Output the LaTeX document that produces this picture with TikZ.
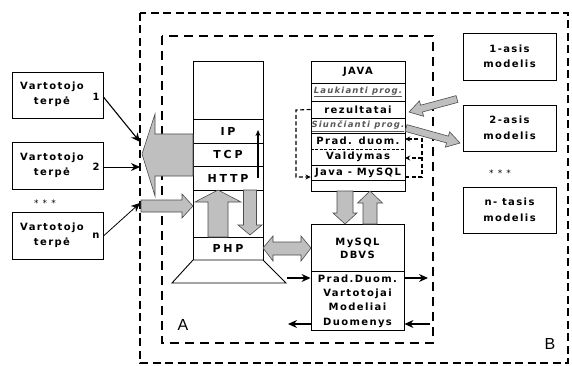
\documentclass[tikz,border=0pt]{standalone}
\usepackage{fontspec}
\setmainfont{DejaVu Sans}[LetterSpace=14]
\newfontfamily\protofont{DejaVu Sans}[LetterSpace=25]
\newfontfamily\bigfont{Liberation Sans}
\usetikzlibrary{calc,arrows.meta}
\newcommand\grayarrow[5]{% start, end, shaft half, head half, head length
  \path coordinate (ba-s) at (#1) coordinate (ba-e) at (#2);
  \path coordinate (ba-h) at ($(ba-e)!#5!(ba-s)$);
  \filldraw[garrow] ($(ba-s)!#3!90:(ba-e)$) -- ($(ba-h)!#3!-90:(ba-s)$) -- ($(ba-h)!#4!-90:(ba-s)$) -- (ba-e) -- ($(ba-h)!#4!90:(ba-s)$) -- ($(ba-h)!#3!90:(ba-s)$) -- ($(ba-s)!#3!-90:(ba-e)$) -- cycle;}
\begin{document}
\begin{tikzpicture}[x=1pt,y=-1pt,
  box/.style={draw,line width=0.9pt,fill=white,inner sep=0pt},
  txt/.style={font=\fontsize{10}{15.5}\selectfont\bfseries,align=center,inner sep=0pt},
  proto/.style={font=\protofont\fontsize{11}{13}\selectfont\bfseries,inner sep=0pt},
  garrow/.style={fill=black!25,draw=black!70,line width=0.6pt,line join=miter},
  blk/.style={-{Stealth[length=9pt,width=8pt]},line width=1.1pt},
  sblk/.style={-{Stealth[length=6pt,width=5pt]},line width=1.1pt},
  loop/.style={line width=1.1pt,dash pattern=on 4pt off 2.5pt},
  ltip/.style={-{Stealth[length=5pt,width=5pt]}},
  prog/.style={font=\fontsize{8.5}{10}\selectfont\itshape\bfseries,text=black!65,inner sep=0pt}
]
\useasboundingbox (0,0) rectangle (572,366);

% dashed frames
\draw[line width=2.2pt,dash pattern=on 8pt off 4.5pt] (140,13) rectangle (568,363);
\draw[line width=1.2pt,dash pattern=on 9pt off 6pt] (162,36) rectangle (433,343);
\node[font=\bigfont\fontsize{16}{18}\selectfont,inner sep=0pt] (labA) at (183,325) {A};
\node[font=\bigfont\fontsize{16}{18}\selectfont,inner sep=0pt] (labB) at (550,344) {B};

% user boxes
\node[box,minimum width=91,minimum height=46] (u1) at (57.5,95) {};
\node[box,minimum width=91,minimum height=47] (u2) at (57.5,165.5) {};
\node[box,minimum width=91,minimum height=47] (u3) at (57.5,235.5) {};
\node[txt] (u1t) at (52,94) {Vartotojo\\terpė};
\node[txt] (u2t) at (52,165) {Vartotojo\\terpė};
\node[txt] (u3t) at (52,235) {Vartotojo\\terpė};
\node[txt] (n1) at (96,97) {1};
\node[txt] (n2) at (96,167) {2};
\node[txt] (nn) at (96,236) {n};
\node[font=\fontsize{9}{10}\selectfont,inner sep=0pt] (dots1) at (45,203) {* * *};
\coordinate (c1) at (140,142);
\coordinate (c2) at (140,167);
\coordinate (c3) at (140,203);
\draw[blk] (u1.east |- n1) -- (c1);
\draw[blk,line width=0.9pt] (u2.east |- n2) -- (c2);
\draw[blk,line width=0.8pt] (u3.east |- nn) -- (c3);

% left stack
\node[box,minimum width=70,minimum height=58] (stop) at (228,90) {};
\node[box,minimum width=70,minimum height=24,proto] (ip) at (228,131) {IP};
\node[box,minimum width=70,minimum height=23,proto] (tcp) at (228,154.5) {TCP};
\node[box,minimum width=70,minimum height=24,proto] (http) at (228,178) {HTTP};
\node[box,minimum width=70,minimum height=47] (mid) at (228,213.5) {};
\node[box,minimum width=70,minimum height=23,proto] (php) at (228,248.5) {PHP};
\draw[box] (193,260) -- (263,260) -- (286,283) -- (172,283) -- cycle;
\coordinate (tcb) at (258,178);
\coordinate (tct) at (258,130);
\draw[sblk] (tcb) -- (tct);

% big gray arrow to users
\filldraw[garrow] (193,134) -- (155,134) -- (155,114) -- (142,154) -- (155,196) -- (155,176) -- (193,176) -- cycle;
% small gray arrow into stack
\grayarrow{141,206}{193,206}{6pt}{12pt}{11pt}
% up / down arrows inside stack
\grayarrow{218,237}{218,190}{10pt}{23pt}{12pt}
\grayarrow{250,190}{250,235}{6.5pt}{12pt}{10pt}

% JAVA stack
\node[box,minimum width=94,minimum height=22,txt] (jv) at (358,72) {JAVA};
\node[box,minimum width=94,minimum height=18] (lp) at (358,92) {};
\node[prog] (lpt) at (358,92) {\underline{Laukianti prog.}};
\node[box,minimum width=94,minimum height=17,txt] (rz) at (358,109.5) {rezultatai};
\node[box,minimum width=94,minimum height=15] (sp) at (358,125.5) {};
\node[prog] (spt) at (358,126) {\underline{Siunčianti prog.}};
\node[box,minimum width=94,minimum height=32] (pdvd) at (358,149) {};
\node[txt,minimum width=94,minimum height=16] (pd) at (358,141) {Prad. duom.};
\node[txt,minimum width=94,minimum height=16] (vd) at (358,157) {Valdymas};
\draw[line width=0.9pt,dash pattern=on 3pt off 1.5pt] (pdvd.west) -- (pdvd.east);
\node[box,minimum width=94,minimum height=15,txt] (jm) at (358,172.5) {Java - MySQL};
\node[box,minimum width=94,minimum height=11] (je) at (358,185.5) {};

% dashed loops
\coordinate (ll1) at (296,110);
\coordinate (ll2) at (296,177);
\draw[loop,ltip] (rz.west) -- (ll1) -- (ll2) -- (ll2 -| jm.west);
\coordinate (rl1) at (422,177);
\coordinate (rl2) at (422,139);
\coordinate (rl3) at (422,158);
\draw[loop,ltip] (rl1 -| jm.east) -- (rl1) -- (rl2) -- (rl2 -| pd.east);
\draw[loop,ltip] (rl3) -- (rl3 -| vd.east);

% models
\node[box,minimum width=93,minimum height=47,txt] (m1) at (509.5,56.5) {1-asis\\modelis};
\node[box,minimum width=93,minimum height=46,txt] (m2) at (509.5,128) {2-asis\\modelis};
\node[box,minimum width=93,minimum height=46,txt] (m3) at (509.5,210) {n- tasis\\modelis};
\node[font=\fontsize{9}{10}\selectfont,inner sep=0pt] (dots2) at (500,173) {* * *};

% slanted gray arrows
\grayarrow{457,99}{409,112}{3.5pt}{8pt}{13pt}
\grayarrow{406,128}{460,143}{3.5pt}{8pt}{13pt}

% MySQL box
\node[box,minimum width=93,minimum height=47,txt,font=\fontsize{10}{13}\selectfont\bfseries] (my) at (357.5,248) {MySQL\\DBVS};
\node[box,minimum width=93,minimum height=59,txt,font=\fontsize{10}{14.3}\selectfont\bfseries] (db) at (357.5,301) {Prad.Duom.\\Vartotojai\\Modeliai\\Duomenys};

% gray arrows JAVA <-> MySQL
\grayarrow{345,191}{345,224}{8pt}{12pt}{11pt}
\grayarrow{370,224}{370,191}{7pt}{12.5pt}{12pt}
% double arrow PHP <-> MySQL
\filldraw[garrow] (263,248) -- (273,236) -- (273,242) -- (301,242) -- (301,236) -- (311,248) -- (301,261) -- (301,255) -- (273,255) -- (273,261) -- cycle;

% black arrows around DB
\coordinate (d1) at (287,278);
\coordinate (d2) at (428,278);
\coordinate (d3) at (430,324);
\coordinate (d4) at (288,324);
\draw[blk] (d1) -- (d1 -| db.west);
\draw[blk] (d1 -| db.east) -- (d2);
\draw[blk] (d3) -- (d3 -| db.east);
\draw[blk] (d4 -| db.west) -- (d4);
\end{tikzpicture}
\end{document}
